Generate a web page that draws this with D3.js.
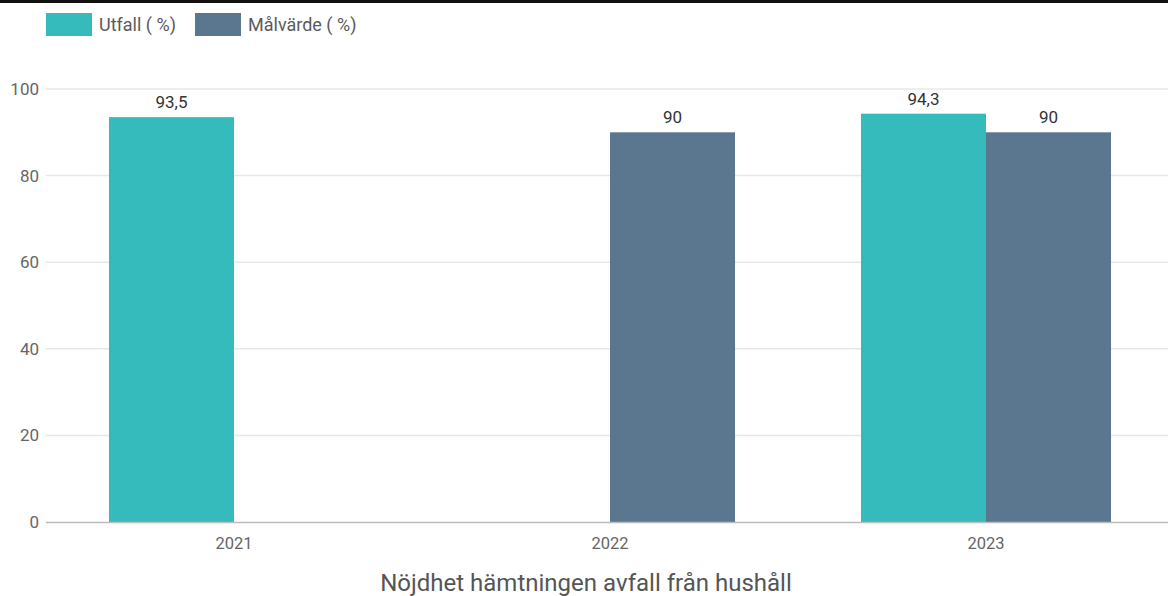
<!DOCTYPE html>
<html>
<head>
<meta charset="utf-8">
<script src="https://cdn.jsdelivr.net/npm/d3@7"></script>
<style>
  body { margin: 0; background: #fff; }
  svg { display: block; font-family: Roboto, sans-serif; }
</style>
</head>
<body>
<svg width="1168" height="596"></svg>
<script>
var years = ["2021", "2022", "2023"];
var seriesNames = ["Utfall ( %)", "Målvärde ( %)"];
var utfall = [93.5, null, 94.3];
var malvarde = [null, 90, 90];
var yTicks = [0, 20, 40, 60, 80, 100];
var colors = ["#35bbbb", "#5a778f"];
var title = "Nöjdhet hämtningen avfall från hushåll";

function draw() {
    var svg = d3.select("svg");
    var W = 1168;
    var mLeft = 46, mRight = 1174, mTop = 89, mBottom = 522;

    // top rule
    svg.append("rect").attr("x", 0).attr("y", 0).attr("width", W).attr("height", 3).attr("fill", "#111");

    var y = d3.scaleLinear().domain([0, 100]).range([mBottom, mTop]);
    var x0 = d3.scaleBand().domain(years).range([mLeft, mRight])
        .paddingInner(0.335).paddingOuter(0.1675);
    var x1 = d3.scaleBand().domain(seriesNames).range([0, x0.bandwidth()]);

    // grid
    svg.append("g").selectAll("line")
        .data(yTicks.filter(d => d > 0))
        .enter().append("line")
        .attr("x1", mLeft).attr("x2", W)
        .attr("y1", d => y(d)).attr("y2", d => y(d))
        .attr("stroke", "#e6e8ea").attr("stroke-width", 1.5);

    // y axis labels
    var yAxis = d3.axisLeft(y).tickValues(yTicks).tickSize(0).tickPadding(7);
    var gy = svg.append("g").attr("transform", "translate(" + mLeft + ",0)").call(yAxis);
    gy.select(".domain").remove();
    gy.selectAll("text").attr("fill", "#666").style("font-size", "17px").style("font-family", "Roboto");

    // bars
    var rows = years.map((yr, i) => ({ year: yr, values: [utfall[i], malvarde[i]] }));
    var groups = svg.append("g").selectAll("g")
        .data(rows).enter().append("g")
        .attr("transform", d => "translate(" + x0(d.year) + ",0)");

    var cells = groups.selectAll("g")
        .data(d => d.values.map((v, j) => ({ name: seriesNames[j], value: v, j: j })).filter(c => c.value != null))
        .enter().append("g");

    cells.append("rect")
        .attr("x", d => x1(d.name))
        .attr("y", d => y(d.value))
        .attr("width", x1.bandwidth())
        .attr("height", d => y(0) - y(d.value))
        .attr("fill", d => colors[d.j]);

    cells.append("text")
        .attr("x", d => x1(d.name) + x1.bandwidth() / 2)
        .attr("y", d => y(d.value) - 9)
        .attr("text-anchor", "middle")
        .attr("fill", "#333")
        .style("font-size", "17px")
        .text(d => String(d.value).replace(".", ","));

    // x axis
    var xAxis = d3.axisBottom(x0).tickSize(0).tickPadding(15);
    var gx = svg.append("g").attr("transform", "translate(0," + mBottom + ")").call(xAxis);
    gx.select(".domain").remove();
    gx.selectAll("text").attr("fill", "#666").style("font-size", "16.5px").style("font-family", "Roboto");
    svg.append("line").attr("x1", mLeft).attr("x2", W)
        .attr("y1", mBottom + 0.5).attr("y2", mBottom + 0.5)
        .attr("stroke", "#bbb").attr("stroke-width", 1.5);

    // title
    svg.append("text").attr("x", 586).attr("y", 591)
        .attr("text-anchor", "middle").attr("fill", "#555")
        .style("font-size", "24px").text(title);

    // legend
    var legend = svg.append("g").selectAll("g")
        .data(seriesNames).enter().append("g")
        .attr("transform", (d, i) => "translate(" + [46, 195][i] + ",13)");
    legend.append("rect").attr("width", 46).attr("height", 23).attr("fill", (d, i) => colors[i]);
    legend.append("text").attr("x", 53).attr("y", 18).attr("fill", "#5a5a5a")
        .style("font-size", "18px").text(d => d);
}

draw();
</script>
</body>
</html>
